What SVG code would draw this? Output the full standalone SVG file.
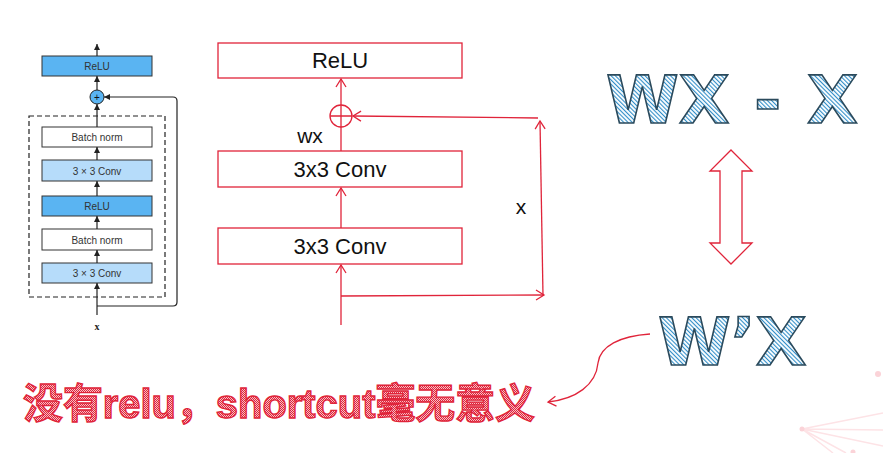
<svg xmlns="http://www.w3.org/2000/svg" width="883" height="453" viewBox="0 0 883 453">
<style>
.lb{stroke:#333;stroke-width:1}
.lt{font-family:"Liberation Sans",Arial,sans-serif;font-size:10px;fill:#333;text-anchor:middle}
.bw{fill:#fff}
.bm{fill:#5ab4f2}
.bl{fill:#b6dcfa}
.ka{stroke:#222;stroke-width:1.2;fill:none}
.rb{fill:#fff;stroke:#e0243a;stroke-width:1.3}
.rl{stroke:#e0243a;stroke-width:1.3;fill:none}
.mt{font-family:"Liberation Sans",Arial,sans-serif;font-size:22px;fill:#111;text-anchor:middle}
.big{font-family:"DejaVu Sans",sans-serif;font-weight:bold;font-size:66px;fill:url(#hatch);stroke:#2b4a5c;stroke-width:1.6}
</style>
<defs>
<marker id="ah" markerUnits="userSpaceOnUse" markerWidth="7" markerHeight="6" refX="6" refY="3" orient="auto"><path d="M0,0 L6,3 L0,6 z" fill="#222"/></marker>
<marker id="rh" markerUnits="userSpaceOnUse" markerWidth="12" markerHeight="12" refX="9" refY="6" orient="auto"><path d="M1,1 L9,6 L1,11" fill="none" stroke="#e0243a" stroke-width="1.3"/></marker>
<pattern id="hatch" patternUnits="userSpaceOnUse" width="3" height="3" patternTransform="rotate(-45)"><rect width="3" height="3" fill="#fff"/><rect x="0" y="0" width="1.1" height="3" fill="#2f8dc8"/></pattern>
<pattern id="chk" patternUnits="userSpaceOnUse" width="2" height="2"><rect width="2" height="2" fill="#f6c0c6"/><rect width="1" height="1" fill="#e0243a"/><rect x="1" y="1" width="1" height="1" fill="#e0243a"/></pattern>
</defs>

<!-- faint background decoration -->
<g id="decor" stroke="#fde3e6" stroke-width="1.5" fill="none">
<path d="M802,429 L883,413 M802,429 L883,430 M802,429 L883,446 M802,429 L833,453 M802,429 L846,453"/>
<circle cx="802" cy="429" r="2.5" fill="#fbd3d8" stroke="none"/>
<circle cx="878" cy="374" r="3" fill="#fbd3d8" stroke="none"/>
<circle cx="853" cy="452" r="2.5" fill="#fbd3d8" stroke="none"/>
</g>

<!-- LEFT: residual block -->
<g id="left-dashed"><rect x="29" y="116" width="136" height="181" fill="none" stroke="#222" stroke-width="1.2" stroke-dasharray="5,3"/></g>
<g id="l-relu-top"><rect class="lb bm" x="42" y="56" width="110" height="20"/><text class="lt" x="97" y="70">ReLU</text></g>
<g id="l-plus"><circle cx="97" cy="97" r="7" fill="#5ab4f2" stroke="#222" stroke-width="1"/><text x="97" y="100.5" font-family="Liberation Sans,Arial,sans-serif" font-size="10" text-anchor="middle" fill="#111">+</text></g>
<g id="l-bn2"><rect class="lb bw" x="42" y="127" width="110" height="20"/><text class="lt" x="97" y="141">Batch norm</text></g>
<g id="l-conv2"><rect class="lb bl" x="42" y="160" width="110" height="21"/><text class="lt" x="97" y="174.5">3 × 3 Conv</text></g>
<g id="l-relu"><rect class="lb bm" x="42" y="196" width="110" height="20"/><text class="lt" x="97" y="210">ReLU</text></g>
<g id="l-bn1"><rect class="lb bw" x="42" y="229" width="110" height="21"/><text class="lt" x="97" y="243.5">Batch norm</text></g>
<g id="l-conv1"><rect class="lb bl" x="42" y="263" width="110" height="20"/><text class="lt" x="97" y="277">3 × 3 Conv</text></g>
<g id="l-x"><text x="97" y="330" font-family="Liberation Serif,serif" font-weight="bold" font-size="10" text-anchor="middle" fill="#222">x</text></g>
<g id="left-connectors" class="ka">
<line x1="97" y1="56" x2="97" y2="44" marker-end="url(#ah)"/>
<line x1="97" y1="90" x2="97" y2="76" marker-end="url(#ah)"/>
<line x1="97" y1="127" x2="97" y2="104" marker-end="url(#ah)"/>
<line x1="97" y1="160" x2="97" y2="147" marker-end="url(#ah)"/>
<line x1="97" y1="196" x2="97" y2="181" marker-end="url(#ah)"/>
<line x1="97" y1="229" x2="97" y2="216" marker-end="url(#ah)"/>
<line x1="97" y1="263" x2="97" y2="250" marker-end="url(#ah)"/>
<line x1="97" y1="315" x2="97" y2="283" marker-end="url(#ah)"/>
<path d="M97,306 H173 Q177,306 177,302 V101 Q177,97 173,97 H104" marker-end="url(#ah)"/>
</g>

<!-- MIDDLE: plain block -->
<g id="m-relu"><rect class="rb" x="218" y="43" width="244" height="35"/><text class="mt" x="340" y="68">ReLU</text></g>
<g id="m-plus"><circle cx="341" cy="116" r="11" fill="#fff" stroke="#e0243a" stroke-width="1.3"/><path class="rl" d="M330,116 H352 M341,105 V127"/></g>
<g id="m-conv2"><rect class="rb" x="218" y="151" width="244" height="36"/><text class="mt" x="340" y="177">3x3 Conv</text></g>
<g id="m-conv1"><rect class="rb" x="218" y="228" width="244" height="36"/><text class="mt" x="340" y="254">3x3 Conv</text></g>
<g id="m-labels"><text x="310" y="143" font-family="Liberation Sans,Arial,sans-serif" font-size="21" text-anchor="middle" fill="#111">wx</text><text x="521" y="214" font-family="Liberation Sans,Arial,sans-serif" font-size="21" text-anchor="middle" fill="#111">x</text></g>
<g id="middle-connectors" class="rl">
<line x1="341" y1="105" x2="341" y2="79" marker-end="url(#rh)"/>
<line x1="341" y1="127" x2="341" y2="151"/>
<line x1="341" y1="228" x2="341" y2="188" marker-end="url(#rh)"/>
<line x1="341" y1="325" x2="341" y2="265" marker-end="url(#rh)"/>
<line x1="341" y1="296" x2="544" y2="295" marker-end="url(#rh)"/>
<line x1="543" y1="296" x2="540" y2="121" marker-end="url(#rh)"/>
<line x1="538" y1="118" x2="353" y2="116" marker-end="url(#rh)"/>
</g>

<!-- RIGHT -->
<g id="wx-x"><text class="big" y="123"><tspan x="606">WX</tspan> <tspan x="754">-</tspan> <tspan x="807">X</tspan></text></g>
<g id="dbl-arrow"><polygon points="731,150 752,171 742,171 742,243 752,243 731,264 710,243 720,243 720,171 710,171" fill="#fff" stroke="#e0243a" stroke-width="1.3"/></g>
<g id="w-prime-x"><text class="big" x="658" y="365">W’X</text></g>
<g id="curve-connector"><path class="rl" d="M650,334 C620,336 600,346 598,363 C596,385 576,399 548,402" marker-end="url(#rh)"/></g>
<g id="note"><text x="23" y="418" font-family="Liberation Sans,'Noto Sans CJK SC',sans-serif" font-weight="bold" font-size="41" fill="url(#chk)" stroke="#e0243a" stroke-width="1.4" textLength="512" lengthAdjust="spacingAndGlyphs">没有relu，shortcut毫无意义</text></g>
</svg>
